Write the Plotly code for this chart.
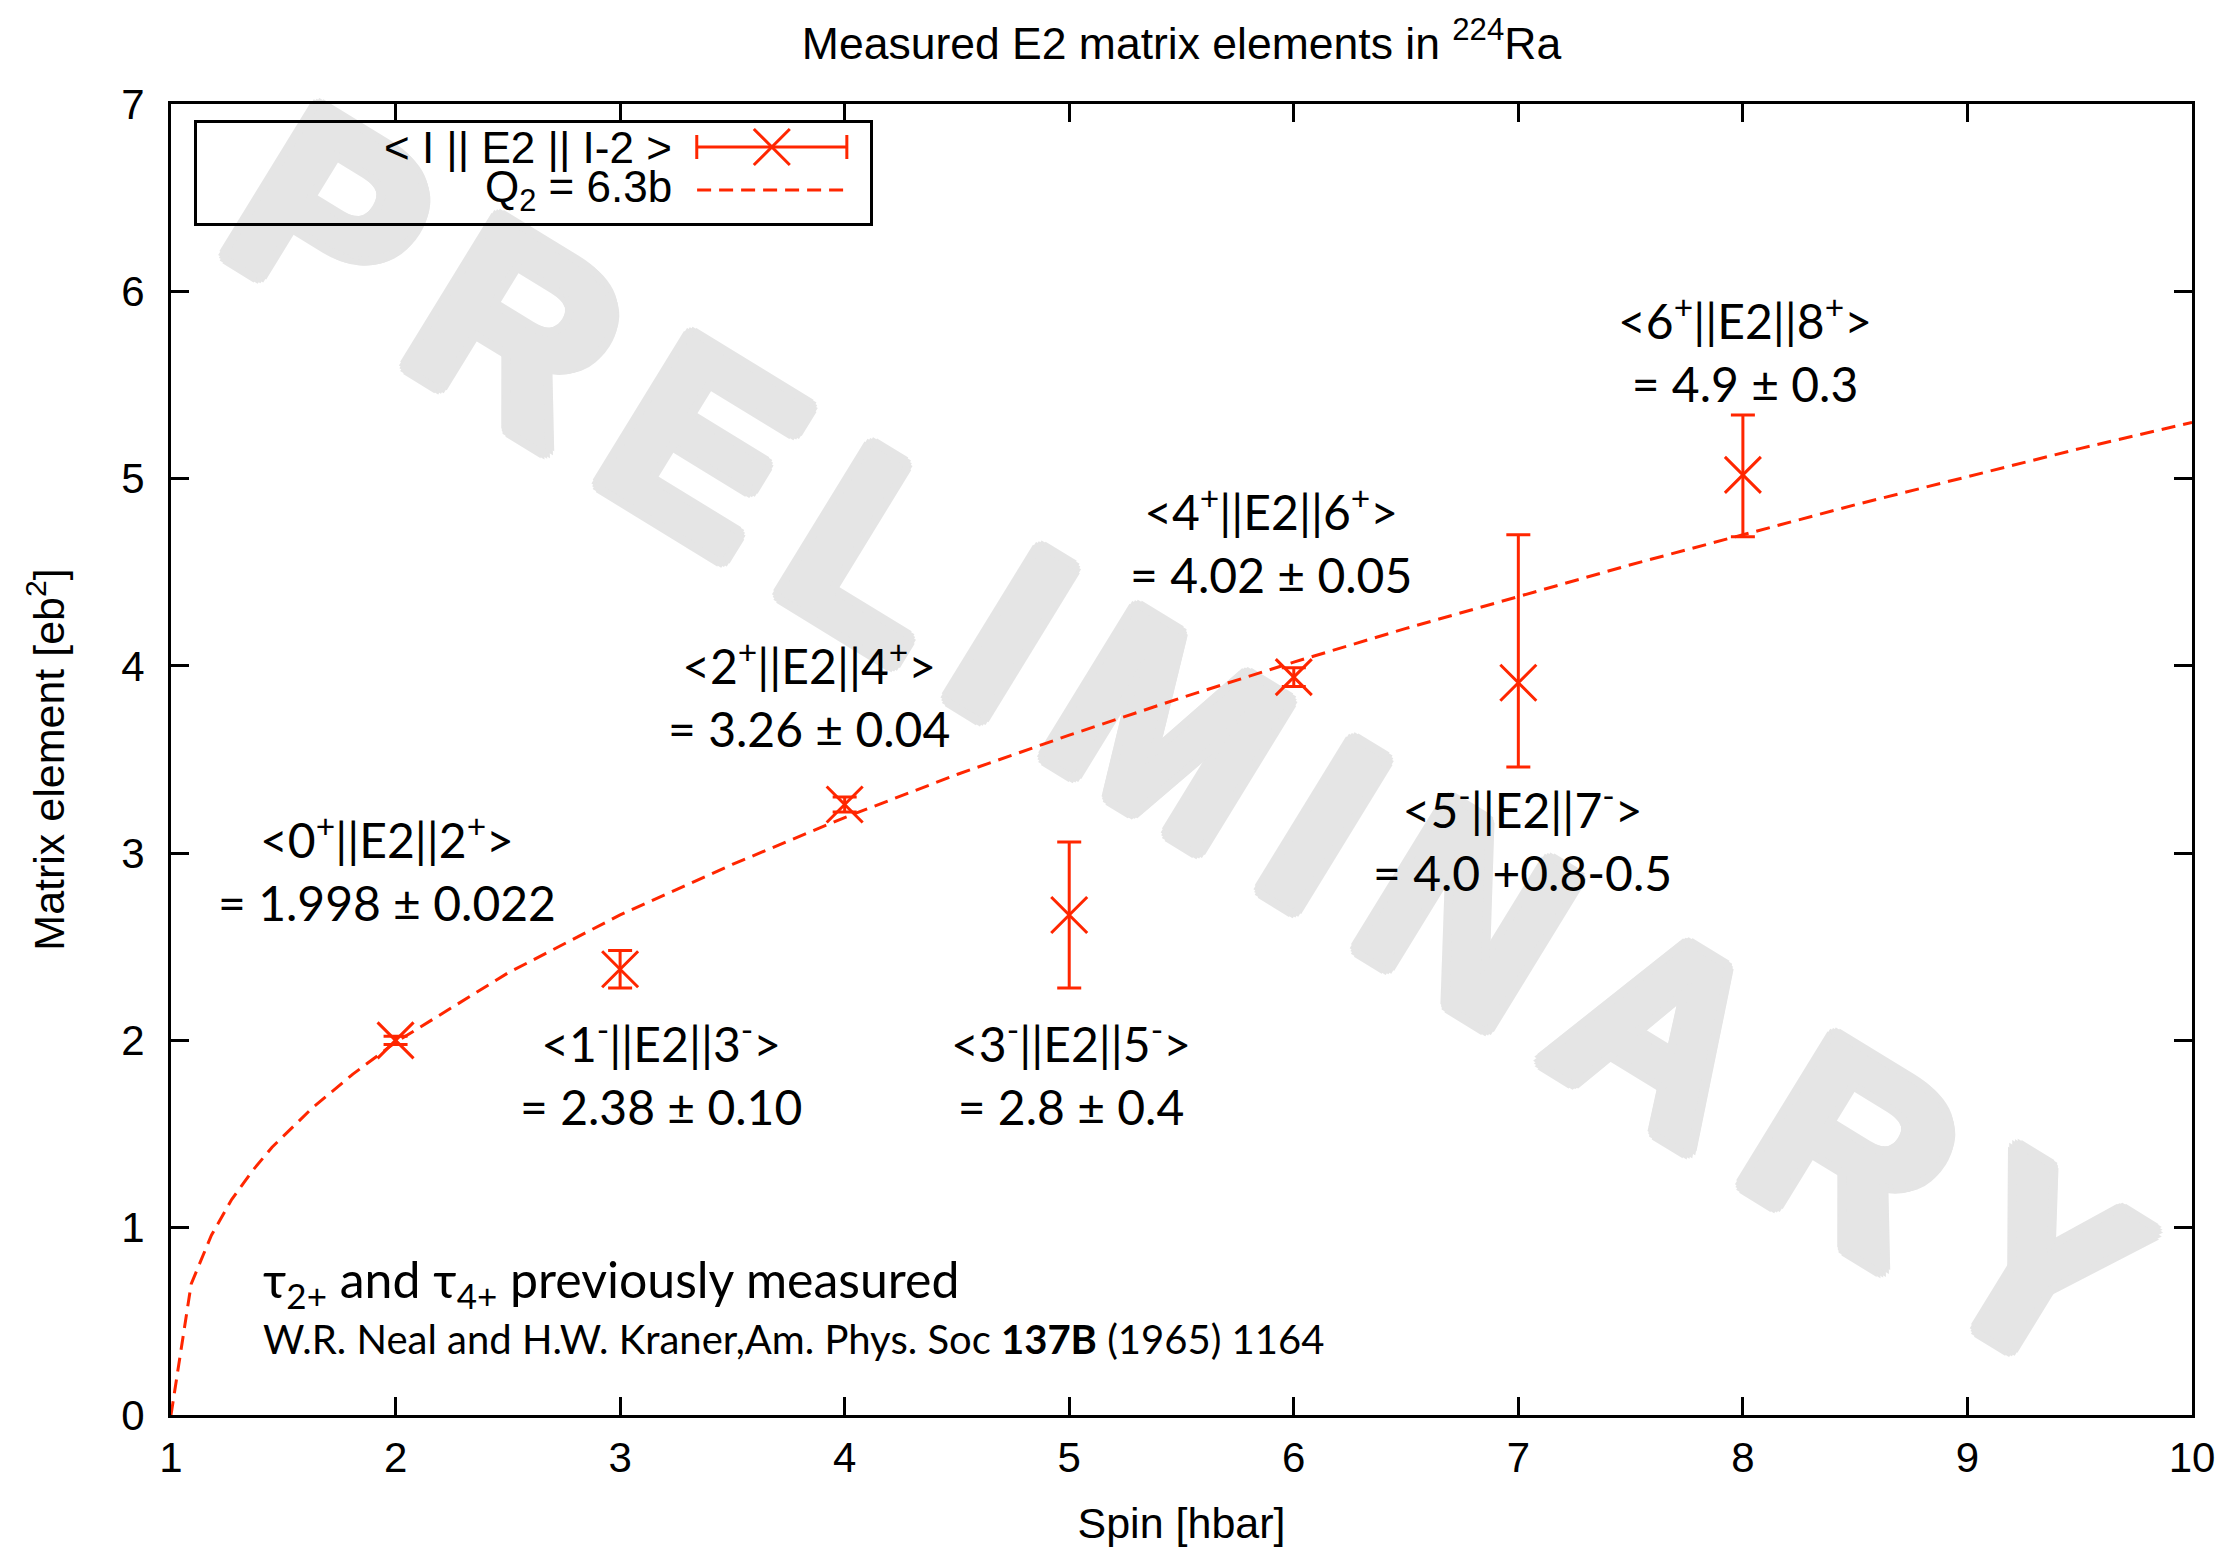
import plotly.graph_objects as go

# ---------------- data ----------------
spin = [2, 3, 4, 5, 6, 7, 8]
matrix_element = [2.00, 2.38, 3.26, 2.67, 3.94, 3.91, 5.02]
err_plus = [0.022, 0.10, 0.04, 0.39, 0.05, 0.79, 0.32]
err_minus = [0.022, 0.10, 0.04, 0.39, 0.05, 0.45, 0.33]

# rotor curve Q2 = 6.3b
fit_spin = [1.0, 1.09, 1.18, 1.27, 1.36, 1.45, 1.63, 1.81, 2.0, 2.5, 3.0, 3.5, 4.0, 4.5,
            5.0, 5.5, 6.0, 6.5, 7.0, 7.5, 8.0, 8.5, 9.0, 9.5, 10.0]
fit_value = [0.0, 0.70, 0.96, 1.15, 1.30, 1.43, 1.64, 1.82, 1.99, 2.36, 2.67, 2.94, 3.19, 3.42,
             3.63, 3.83, 4.02, 4.20, 4.37, 4.54, 4.70, 4.86, 5.01, 5.16, 5.30]

label_x = [1.96, 3.18, 3.84, 5.01, 5.90, 7.02, 8.01]
label_y = [2.92, 1.83, 3.85, 1.83, 4.67, 3.08, 5.69]
label_text = [
    "&lt;0<sup>+</sup>||E2||2<sup>+</sup>&gt;<br>= 1.998 ± 0.022",
    "&lt;1<sup>-</sup>||E2||3<sup>-</sup>&gt;<br>= 2.38 ± 0.10",
    "&lt;2<sup>+</sup>||E2||4<sup>+</sup>&gt;<br>= 3.26 ± 0.04",
    "&lt;3<sup>-</sup>||E2||5<sup>-</sup>&gt;<br>= 2.8 ± 0.4",
    "&lt;4<sup>+</sup>||E2||6<sup>+</sup>&gt;<br>= 4.02 ± 0.05",
    "&lt;5<sup>-</sup>||E2||7<sup>-</sup>&gt;<br>= 4.0 +0.8-0.5",
    "&lt;6<sup>+</sup>||E2||8<sup>+</sup>&gt;<br>= 4.9 ± 0.3",
]

x_ticks = list(range(1, 11))
y_ticks = list(range(0, 8))

RED = "#ff2600"
GRAY = "#e5e5e5"
SANS = "Liberation Sans, Arial, Helvetica, sans-serif"
HUM = "Lato, Open Sans, sans-serif"

fig = go.Figure()

# data with error bars
fig.add_trace(go.Scatter(
    x=spin, y=matrix_element, mode="markers",
    marker=dict(symbol="x-thin", size=36, color=RED, line=dict(color=RED, width=3)),
    error_y=dict(type="data", symmetric=False, array=err_plus, arrayminus=err_minus,
                 color=RED, thickness=3, width=12),
    showlegend=False, xaxis="x", yaxis="y",
))

# dashed rotor curve
fig.add_trace(go.Scatter(
    x=fit_spin, y=fit_value, mode="lines",
    line=dict(color=RED, width=3, dash="14px,8px"),
    showlegend=False, xaxis="x", yaxis="y",
))

# hand-built legend on its own small axes (box = axes frame)
fig.add_trace(go.Scatter(
    x=[0.854], y=[0.76], mode="markers",
    marker=dict(symbol="x-thin", size=36, color=RED, line=dict(color=RED, width=3)),
    error_x=dict(type="data", array=[0.1115], color=RED, thickness=3, width=12),
    showlegend=False, xaxis="x2", yaxis="y2", hoverinfo="skip",
))
fig.add_trace(go.Scatter(
    x=[0.743, 0.966], y=[0.33, 0.33], mode="lines",
    line=dict(color=RED, width=3, dash="14px,8px"),
    showlegend=False, xaxis="x2", yaxis="y2", hoverinfo="skip",
))

annotations = []
for tx, ty, tt in zip(label_x, label_y, label_text):
    annotations.append(dict(x=tx, y=ty, xref="x", yref="y", text=tt, showarrow=False,
                            font=dict(family=HUM, size=48, color="black"),
                            xanchor="center", yanchor="middle", align="center"))

annotations += [
    dict(x=1.40, y=0.705, xref="x", yref="y", showarrow=False, xanchor="left", yanchor="middle",
         text="τ<sub>2+</sub> and τ<sub>4+</sub> previously measured",
         font=dict(family=HUM, size=50, color="black")),
    dict(x=1.40, y=0.406, xref="x", yref="y", showarrow=False, xanchor="left", yanchor="middle",
         text="W.R. Neal and H.W. Kraner,Am. Phys. Soc <b>137B</b> (1965) 1164",
         font=dict(family=HUM, size=40, color="black")),
    dict(x=0.709, y=0.76, xref="x2", yref="y2", showarrow=False, xanchor="right", yanchor="middle",
         text="&lt; I || E2 || I-2 &gt;", font=dict(family=SANS, size=44, color="black")),
    dict(x=0.709, y=0.33, xref="x2", yref="y2", showarrow=False, xanchor="right", yanchor="middle",
         text="Q<sub>2</sub> = 6.3b", font=dict(family=SANS, size=44, color="black")),
]

axis_common = dict(showline=True, linewidth=3, linecolor="black", mirror="ticks",
                   ticks="inside", ticklen=18, tickwidth=3, tickcolor="black",
                   showgrid=False, zeroline=False,
                   tickfont=dict(family=SANS, size=42, color="black"))

fig.update_layout(
    width=2240, height=1547,
    margin=dict(l=171, r=48, t=104, b=132, autoexpand=False),
    paper_bgcolor="white", plot_bgcolor="rgba(0,0,0,0)",
    title=dict(text="Measured E2 matrix elements in <sup>224</sup>Ra",
               x=0.5, xref="paper", xanchor="center", y=0.972, yref="container", yanchor="middle",
               font=dict(family=SANS, size=44.5, color="black")),
    xaxis=dict(range=[1, 10], tickvals=x_ticks, ticktext=[str(v) for v in x_ticks],
               ticklabelstandoff=4,
               title=dict(text="Spin [hbar]", standoff=36, font=dict(family=SANS, size=43, color="black")),
               **axis_common),
    yaxis=dict(range=[0, 7], tickvals=y_ticks, ticktext=[str(v) for v in y_ticks],
               ticklabelstandoff=15,
               title=dict(text="Matrix element [eb<sup>2</sup>]", standoff=44,
                          font=dict(family=SANS, size=43, color="black")),
               **axis_common),
    xaxis2=dict(domain=[0.0129, 0.3459], anchor="y2", range=[0, 1], showline=True, linewidth=3,
                linecolor="black", mirror=True, showticklabels=False, ticks="", showgrid=False,
                zeroline=False, fixedrange=True),
    yaxis2=dict(domain=[0.9092, 0.9855], anchor="x2", range=[0, 1], showline=True, linewidth=3,
                linecolor="black", mirror=True, showticklabels=False, ticks="", showgrid=False,
                zeroline=False, fixedrange=True),
    annotations=annotations,
    showlegend=False,
)

# heavy grey "PRELIMINARY" watermark, drawn beneath the data
hs2 = "\u200a\u200a"
r = 9
d = 6
shadow = ", ".join(f"{a}px {b}px 0 {GRAY}" for a, b in
                   [(r, 0), (-r, 0), (0, r), (0, -r), (d, d), (-d, d), (d, -d), (-d, -d),
                    (4, 8), (-4, 8), (4, -8), (-4, -8), (8, 4), (-8, 4), (8, -4), (-8, -4)])
wm_font = dict(family=SANS, size=254, color=GRAY, weight="bold", shadow=shadow)
wm = dict(type="rect", xref="paper", yref="paper", x0=0.4582, x1=0.5582, y0=0.4806, y1=0.5806,
          line=dict(width=0), fillcolor="rgba(0,0,0,0)", layer="below")
try:
    fig.add_shape(**wm, label=dict(text="<b>" + hs2.join("PRELIMINARY") + "</b>", textangle=31.5,
                                   textposition="middle center", font=wm_font))
except Exception:
    wm_font.pop("shadow")
    wm_font["size"] = 278
    fig.add_shape(**wm, label=dict(text="<b>" + "\u200a".join("PRELIMINARY") + "</b>", textangle=31.5,
                                   textposition="middle center", font=wm_font))

fig.write_html("out.html")
